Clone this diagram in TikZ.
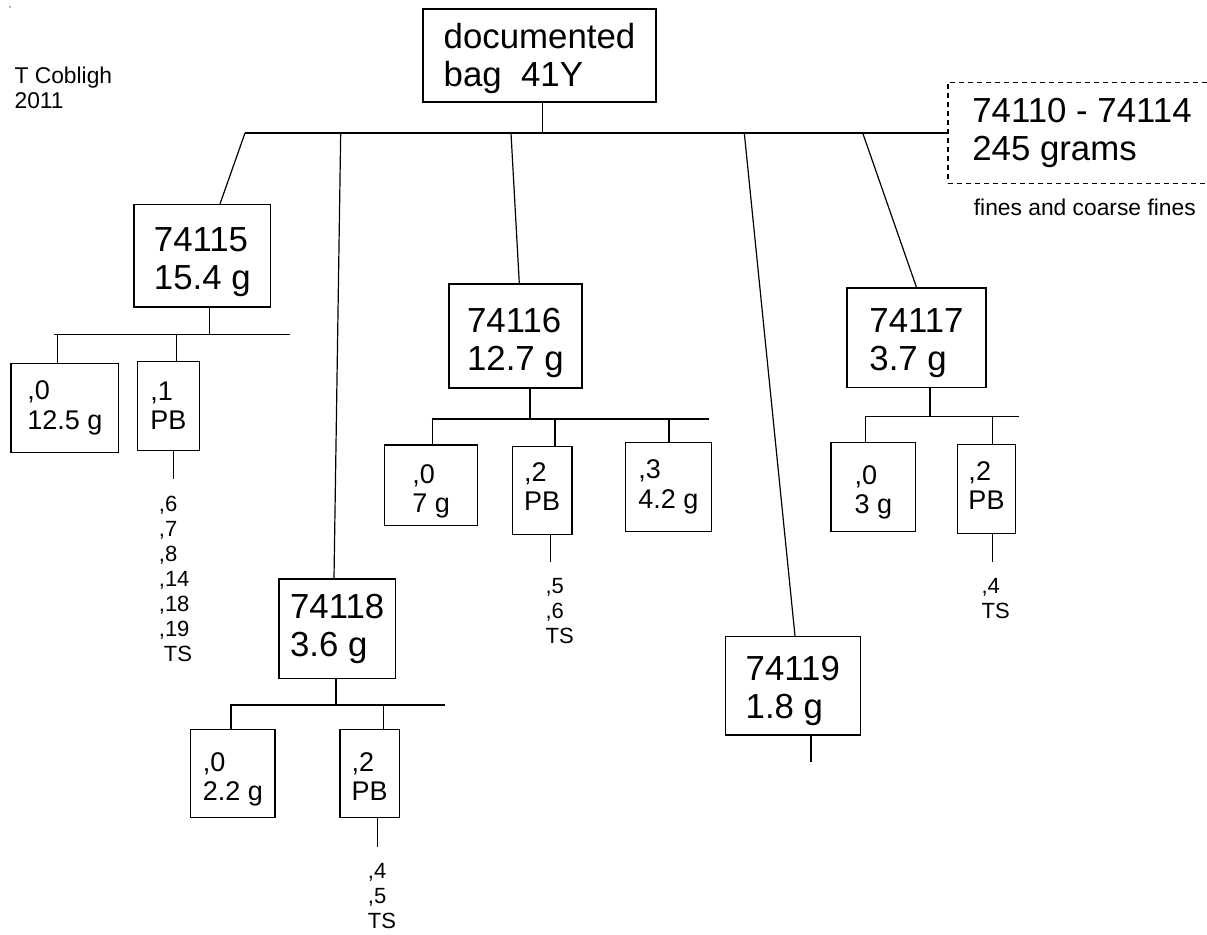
\documentclass[tikz,border=0pt]{standalone}
\usepackage{fontspec}
\setmainfont{Liberation Sans}
\usetikzlibrary{calc}
\newcommand{\bigdown}[1]{\rule{0pt}{\dimexpr12.6pt+#1pt\relax}}
\newcommand{\subdown}[1]{\rule{0pt}{\dimexpr9.8pt+#1pt\relax}}
\newcommand{\sublift}[1]{\rule[-#1pt]{0pt}{0pt}}

\begin{document}
\begin{tikzpicture}[x=0.5pt, y=-0.5pt, line width=0.6pt,
    sz/.style 2 args={minimum width=#1*0.5pt, minimum height=#2*0.5pt},
    bigbox/.style={draw, line width=0.7pt, align=left, inner sep=0pt, font=\fontsize{17.4}{19}\selectfont},
    subbox/.style={draw, line width=0.7pt, align=left, inner sep=0pt, font=\fontsize{13.5}{14.7}\selectfont},
    dashbox/.style={bigbox, dash pattern=on 2.5pt off 2pt},
    listtext/.style={anchor=north west, align=left, inner sep=0pt, font=\fontsize{11}{12.5}\selectfont},
    notetext/.style={anchor=north west, align=left, inner sep=0pt, font=\fontsize{11.4}{12.5}\selectfont}]
    \clip (0,0) rectangle (1207,935);
    \fill[gray] (10,7) circle (0.5pt);
    \node[notetext] (author) at (14,66.5) {T Cobligh\\2011};
    \node[bigbox, sz={233}{93}] (root) at (539.5,55.5) {\rule{0pt}{15.2pt}documented\\bag\ \ 41Y};
    \node[dashbox, sz={268}{101}] (fines) at (1082,133) {74110 - 74114\\245 grams};
    \node[notetext] (finesnote) at (973.3,198.3) {fines and coarse fines};
    \node[bigbox, sz={136.7}{102.3}] (n74115) at (202.3,255.8) {\bigdown{6}74115\\15.4 g};
    \node[bigbox, sz={133}{104}] (n74116) at (515.5,336) {\bigdown{7}74116\\12.7 g};
    \node[bigbox, sz={139}{99.3}] (n74117) at (916.5,337.7) {\bigdown{5}74117\\3.7 g};
    \node[bigbox, sz={116.5}{99.7}] (n74118) at (337.2,628.8) {74118\\3.6 g};
    \node[bigbox, sz={135}{98.3}] (n74119) at (792.8,685.8) {\bigdown{5}74119\\1.8 g};
    \node[subbox, sz={107.7}{89}] (n74115a) at (64.8,407.8) {,0\\12.5 g};
    \node[subbox, sz={62.4}{88.6}] (n74115b) at (168.5,406) {,1\\PB};
    \node[subbox, sz={93}{80.7}] (n74116a) at (431.2,485.3) {\subdown{6},0\\7 g};
    \node[subbox, sz={59.7}{87.6}] (n74116b) at (542.2,490.5) {,2\\PB\sublift{4}};
    \node[subbox, sz={86}{88.6}] (n74116c) at (668.3,487) {,3\\4.2 g};
    \node[subbox, sz={84.7}{89}] (n74117a) at (873.3,487.2) {\subdown{5},0\\3 g};
    \node[subbox, sz={58.4}{89}] (n74117b) at (986.5,488.8) {,2\\PB\sublift{3}};
    \node[subbox, sz={84.3}{88.4}] (n74118a) at (232.8,773.5) {\subdown{5.5},0\\2.2 g};
    \node[subbox, sz={59.3}{88.4}] (n74118b) at (369.7,773.5) {\subdown{2.5},2\\PB};
    \node[listtext] (l74115) at (158.3,495.5) {,6\\,7\\,8\\,14\\,18\\,19\\\hspace{2.5pt}TS};
    \node[listtext] (l74116) at (545,577.8) {,5\\,6\\TS};
    \node[listtext] (l74117) at (981,577.8) {,4\\TS};
    \node[listtext] (l74118) at (367.3,862.8) {,4\\,5\\TS};
    \coordinate (t115) at (245,133);
    \coordinate (t118) at (340.7,133);
    \coordinate (troot) at (542.7,133);
    \coordinate (t116) at (511,133);
    \coordinate (t119) at (744.3,133);
    \coordinate (t117) at (862.7,133);
    \draw (t115) -- (fines.west);
    \draw (troot) -- (troot |- root.south);
    \draw (t115) -- ($(n74115.north)+(17.7,0)$);
    \draw (t118) -- ($(n74118.north)+(-3.2,0)$);
    \draw (t116) -- ($(n74116.north)+(3.8,0)$);
    \draw (t119) -- ($(n74119.north)+(2.2,0)$);
    \draw (t117) -- (n74117.north);
    \coordinate (b115w) at (54.3,334.7);
    \coordinate (b115e) at (290,334.7);
    \coordinate (s115) at (209.3,334.7);
    \coordinate (d115a) at (57.3,334.7);
    \coordinate (d115b) at (176.7,334.7);
    \coordinate (e115) at (173.3,479.3);
    \draw (b115w) -- (b115e);
    \draw (s115) -- (s115 |- n74115.south);
    \draw (d115a) -- (d115a |- n74115a.north);
    \draw (d115b) -- (d115b |- n74115b.north);
    \draw (e115 |- n74115b.south) -- (e115);
    \coordinate (b116w) at (431.7,419);
    \coordinate (b116e) at (709,419);
    \coordinate (s116) at (530,419);
    \coordinate (d116a) at (432.7,419);
    \coordinate (d116b) at (555,419);
    \coordinate (d116c) at (669,419);
    \coordinate (e116) at (550.3,562.3);
    \draw (b116w) -- (b116e);
    \draw (s116) -- (s116 |- n74116.south);
    \draw (d116a) -- (d116a |- n74116a.north);
    \draw (d116b) -- (d116b |- n74116b.north);
    \draw (d116c) -- (d116c |- n74116c.north);
    \draw (e116 |- n74116b.south) -- (e116);
    \coordinate (b117w) at (865,416.7);
    \coordinate (b117e) at (1019.3,416.7);
    \coordinate (s117) at (930,416.7);
    \coordinate (d117a) at (865.7,416.7);
    \coordinate (d117b) at (992.3,416.7);
    \coordinate (e117) at (992.3,561.7);
    \draw (b117w) -- (b117e);
    \draw (s117) -- (s117 |- n74117.south);
    \draw (d117a) -- (d117a |- n74117a.north);
    \draw (d117b) -- (d117b |- n74117b.north);
    \draw (e117 |- n74117b.south) -- (e117);
    \coordinate (b118w) at (230,705);
    \coordinate (b118e) at (445,705);
    \coordinate (s118) at (336,705);
    \coordinate (d118a) at (231,705);
    \coordinate (d118b) at (383.3,705);
    \coordinate (e118) at (377.7,846.7);
    \draw (b118w) -- (b118e);
    \draw (s118) -- (s118 |- n74118.south);
    \draw (d118a) -- (d118a |- n74118a.north);
    \draw (d118b) -- (d118b |- n74118b.north);
    \draw (e118 |- n74118b.south) -- (e118);
    \coordinate (e119) at (811,761.7);
    \draw (e119 |- n74119.south) -- (e119);
\end{tikzpicture}
\end{document}
